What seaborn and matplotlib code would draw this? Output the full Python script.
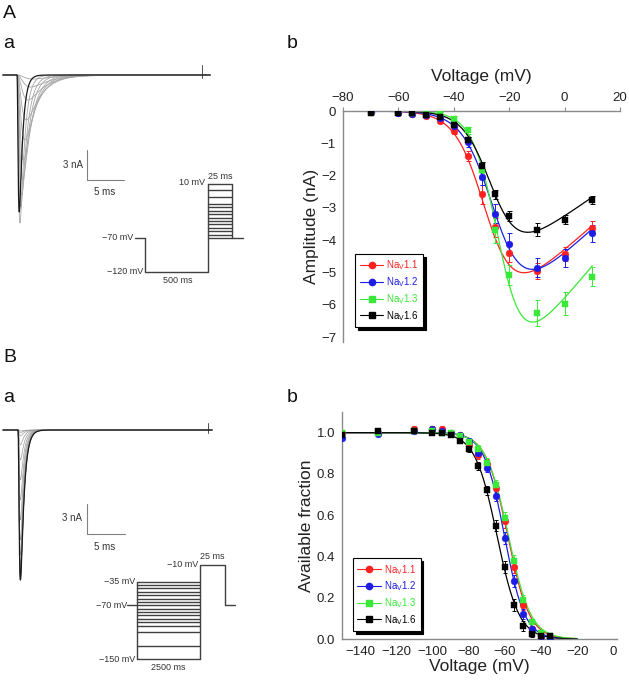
import numpy as np
import matplotlib
matplotlib.use('Agg')
import matplotlib.pyplot as plt
import seaborn as sns
from matplotlib.lines import Line2D

W, H = 629, 682

sns.set_theme(style='white')
plt.rcParams['font.family'] = ['Liberation Sans', 'DejaVu Sans']
plt.rcParams['axes.unicode_minus'] = True
spine_gray = '#8a8a8a'

# ---- panel A b : current-voltage data (mV, nA) ----
v_act = [-70, -60, -55, -50, -45, -40, -35, -30, -25, -20, -10, 0, 10]
amp_11 = [-0.03, -0.06, -0.10, -0.14, -0.32, -0.63, -1.40, -2.58, -3.60, -4.41, -4.95, -4.42, -3.62]
amp_12 = [-0.03, -0.05, -0.08, -0.12, -0.22, -0.45, -0.96, -2.04, -3.18, -4.12, -4.85, -4.54, -3.79]
amp_13 = [-0.02, -0.03, -0.06, -0.08, -0.09, -0.24, -0.60, -1.83, -3.69, -5.08, -6.25, -5.96, -5.13]
amp_16 = [-0.05, -0.05, -0.07, -0.11, -0.20, -0.42, -0.89, -1.69, -2.58, -3.24, -3.67, -3.36, -2.76]
err_11 = [0.02, 0.02, 0.03, 0.04, 0.05, 0.08, 0.15, 0.30, 0.30, 0.25, 0.25, 0.22, 0.20]
err_12 = [0.02, 0.02, 0.03, 0.04, 0.05, 0.08, 0.15, 0.25, 0.30, 0.35, 0.30, 0.28, 0.25]
err_13 = [0.02, 0.02, 0.03, 0.04, 0.05, 0.08, 0.12, 0.25, 0.40, 0.30, 0.40, 0.35, 0.30]
err_16 = [0.02, 0.02, 0.02, 0.03, 0.04, 0.06, 0.10, 0.12, 0.15, 0.15, 0.20, 0.15, 0.12]
# Boltzmann I-V fit parameters: Gmax, Vrev, V1/2, k
ivfit_11 = (0.0755, 57, -28.0, 5.3)
ivfit_12 = (0.0777, 57, -25.0, 5.5)
ivfit_13 = (0.102, 57, -23.5, 4.5)
ivfit_16 = (0.0593, 55, -26.0, 5.0)

# ---- panel B b : steady-state inactivation ----
v_inact = [-150, -130, -110, -100, -95, -90, -85, -80, -75, -70, -65, -60, -55, -50, -45, -40, -35]
frac_11 = [1.00, 1.00, 1.02, 1.02, 1.02, 1.00, 0.99, 0.94, 0.89, 0.85, 0.73, 0.57, 0.35, 0.165, 0.05, 0.016, 0.01]
frac_12 = [0.975, 0.995, 1.01, 1.02, 1.01, 1.00, 0.99, 0.96, 0.90, 0.83, 0.695, 0.49, 0.28, 0.12, 0.048, 0.016, 0.005]
frac_13 = [1.00, 1.00, 1.01, 1.01, 1.00, 1.00, 0.985, 0.957, 0.92, 0.855, 0.745, 0.585, 0.377, 0.19, 0.08, 0.03, 0.016]
frac_16 = [0.99, 1.01, 1.01, 1.00, 1.00, 0.99, 0.96, 0.92, 0.84, 0.72, 0.55, 0.35, 0.165, 0.064, 0.026, 0.016, 0.016]
ferr = [0.01, 0.01, 0.01, 0.01, 0.01, 0.01, 0.01, 0.015, 0.02, 0.02, 0.025, 0.03, 0.03, 0.025, 0.015, 0.01, 0.01]
# Boltzmann inactivation fits: V1/2, k
infit_11 = (-58.4, 6.0)
infit_12 = (-60.2, 5.6)
infit_13 = (-58.0, 6.2)
infit_16 = (-64.3, 6.1)

labels = [r'Na$_\mathregular{V}$1.1', r'Na$_\mathregular{V}$1.2',
          r'Na$_\mathregular{V}$1.3', r'Na$_\mathregular{V}$1.6']
colors = ['#ff2020', '#1c1ce6', '#3ae83a', '#000000']
markers = ['o', 'o', 's', 's']

# ---- panel a : example current traces (peak nA, tau_m ms, tau_h ms) ----
peaks_a = [0.4, 1.2, 2.5, 4.5, 6.5, 8.5, 10.5, 12.0, 13.2, 14.8, 13.7]
taum_a = [0.9, 0.75, 0.6, 0.5, 0.42, 0.35, 0.3, 0.25, 0.2, 0.16, 0.12]
tauh_a = [3.0, 2.6, 2.2, 1.9, 1.6, 1.35, 1.15, 0.95, 0.8, 0.6, 0.45]
peaks_b = [15.0, 15.0, 14.9, 14.8, 14.6, 14.2, 13.5, 12.5, 11.0, 9.0, 7.0, 5.0, 3.0, 1.5, 0.6, 0.25, 0.1]
taum_b, tauh_b = 0.13, 0.45

# protocols (mV)
test_a = [-70, -65, -60, -55, -50, -45, -40, -35, -30, -25, -20, -10, 0, 10]
prepulse_b = v_inact


def px_box(x0, y0, x1, y1):
    return [x0 / W, 1 - y1 / H, (x1 - x0) / W, (y1 - y0) / H]


def style_axes(ax):
    for s in ax.spines.values():
        s.set_color(spine_gray)
        s.set_linewidth(1.0)
    ax.tick_params(direction='out', length=3, width=0.8, color=spine_gray,
                   labelsize=9.5, labelcolor='#222222', pad=2)


def add_legend(ax, anchor):
    handles = [Line2D([], [], color=c, marker=m, lw=0.8, ms=4.5) for c, m in zip(colors, markers)]
    leg = ax.legend(handles, labels, loc='lower left', bbox_to_anchor=anchor, fontsize=7,
                    frameon=True, fancybox=False, edgecolor='black', framealpha=1,
                    shadow={'color': 'black', 'alpha': 1}, handlelength=2.4,
                    handletextpad=0.3, labelspacing=0.3, borderpad=0.45, borderaxespad=0)
    leg.get_frame().set_linewidth(0.8)
    for t, c in zip(leg.get_texts(), colors):
        t.set_color(c)


def path(ax, xs, ys, color='0.25', lw=1.0, **kw):
    # straight polyline drawn in given order, no aggregation
    sns.lineplot(x=xs, y=ys, color=color, lw=lw, sort=False, estimator=None,
                 errorbar=None, ax=ax, **kw)


def trace(t, onset, peak, tm, th):
    s = np.clip(t - onset, 0, None)
    shape = (1 - np.exp(-s / tm)) ** 3 * np.exp(-s / th)
    return -peak * shape / shape.max()


fig = plt.figure(figsize=(W / 100, H / 100), dpi=100)

# ================= A b =================
ax = fig.add_axes(px_box(343, 111, 620, 342))
vv = np.linspace(-70, 10, 300)
for y, e, p, c, m in zip([amp_11, amp_12, amp_13, amp_16], [err_11, err_12, err_13, err_16],
                         [ivfit_11, ivfit_12, ivfit_13, ivfit_16], colors, markers):
    g, vr, vh, k = p
    fit = g * (vv - vr) / (1 + np.exp((vh - vv) / k))
    sns.lineplot(x=vv, y=fit, color=c, lw=0.9, ax=ax)
    ax.errorbar(v_act, y, yerr=e, fmt='none', ecolor=c, elinewidth=0.7, capsize=1.8, capthick=0.7)
    sns.scatterplot(x=v_act, y=y, color=c, marker=m, s=24, edgecolor=c, linewidth=0.3, ax=ax, zorder=3)
ax.set_xlim(-80, 20)
ax.set_ylim(-7.15, 0)
ax.set_xticks(np.arange(-80, 21, 20))
ax.set_yticks(np.arange(-7, 1, 1))
ax.xaxis.tick_top()
ax.xaxis.set_label_position('top')
ax.spines['right'].set_visible(False)
ax.spines['bottom'].set_visible(False)
style_axes(ax)
ax.set_xlabel('Voltage (mV)', fontsize=12.5, color='#222222', labelpad=8)
ax.set_ylabel('Amplitude (nA)', fontsize=12.5, color='#222222', labelpad=1)
add_legend(ax, (0.045, 0.065))

# ================= B b =================
ax = fig.add_axes(px_box(342, 412, 617, 639))
vv = np.linspace(-150, -20, 300)
for y, p, c, m in zip([frac_11, frac_12, frac_13, frac_16],
                      [infit_11, infit_12, infit_13, infit_16], colors, markers):
    vh, k = p
    fit = 1 / (1 + np.exp((vv - vh) / k))
    sns.lineplot(x=vv, y=fit, color=c, lw=0.9, ax=ax)
    ax.errorbar(v_inact, y, yerr=ferr, fmt='none', ecolor=c, elinewidth=0.7, capsize=1.5, capthick=0.7)
    sns.scatterplot(x=v_inact, y=y, color=c, marker=m, s=24, edgecolor=c, linewidth=0.3, ax=ax, zorder=3)
ax.set_xlim(-150, 2)
ax.set_ylim(0, 1.1)
ax.set_xticks(np.arange(-140, 1, 20))
ax.set_yticks(np.arange(0, 1.01, 0.2))
ax.yaxis.set_major_formatter(matplotlib.ticker.FormatStrFormatter('%.1f'))
ax.spines['right'].set_visible(False)
ax.spines['top'].set_visible(False)
style_axes(ax)
ax.set_xlabel('Voltage (mV)', fontsize=12.5, color='#222222', labelpad=1)
ax.set_ylabel('Available fraction', fontsize=12.5, color='#222222', labelpad=2)
add_legend(ax, (0.04, 0.035))

# ================= A a traces =================
ax = fig.add_axes(px_box(0, 60, 300, 360))
ax.set_axis_off()
ax.set_xlim(0, 300 / 7.4)
ax.set_ylim(-28.5, 1.5)
onset = 2.3
t = np.linspace(0.4, 28.4, 4000)
n = len(peaks_a)
for i, (pk, tm, th) in enumerate(zip(peaks_a, taum_a, tauh_a)):
    col = '0.1' if i == n - 1 else '0.65'
    lw = 0.9 if i == n - 1 else 0.6
    path(ax, t, trace(t, onset, pk, tm, th), color=col, lw=lw, zorder=2 + (i == n - 1))
path(ax, [onset + 25] * 2, [-0.3, 1.0], color='0.3', lw=0.7)
path(ax, [11.76, 11.76, 16.76], [-7.5, -10.5, -10.5], color='0.5', lw=0.8)
ax.text(11.2, -9.0, '3 nA', ha='right', va='center', fontsize=7, color='#333333')
ax.text(14.2, -11.7, '5 ms', ha='center', va='center', fontsize=7, color='#333333')

# A a protocol
ax = fig.add_axes(px_box(100, 170, 250, 290))
ax.set_axis_off()
ax.set_xlim(0, 150)
ax.set_ylim(-146.5, 30)
path(ax, [35, 45, 45, 108, 108], [-70, -70, -120, -120, max(test_a)])
path(ax, [132, 132, 143], [max(test_a), -70, -70])
for lv in test_a:
    path(ax, [108, 132], [lv, lv])
ax.text(33, -70, '\u221270 mV', ha='right', va='center', fontsize=6.5, color='#333333')
ax.text(43, -120, '\u2212120 mV', ha='right', va='center', fontsize=6.5, color='#333333')
ax.text(78, -133, '500 ms', ha='center', va='center', fontsize=6.5, color='#333333')
ax.text(105, 12, '10 mV', ha='right', va='center', fontsize=6.5, color='#333333')
ax.text(120, 21, '25 ms', ha='center', va='center', fontsize=6.5, color='#333333')

# ================= B a traces =================
ax = fig.add_axes(px_box(0, 400, 300, 682))
ax.set_axis_off()
ax.set_xlim(0, 300 / 7.6)
ax.set_ylim(-25.2, 3.0)
onset = 2.37
t = np.linspace(0.4, 27.9, 4000)
for i, p in enumerate(peaks_b):
    col = '0.1' if i == 0 else '0.6'
    lw = 0.9 if i == 0 else 0.5
    path(ax, t, trace(t, onset, p, taum_b, tauh_b), color=col, lw=lw, zorder=3 - (i > 0))
path(ax, [onset + 25] * 2, [-0.3, 0.7], color='0.3', lw=0.7)
path(ax, [11.45, 11.45, 16.45], [-7.4, -10.4, -10.4], color='0.5', lw=0.8)
ax.text(10.8, -8.8, '3 nA', ha='right', va='center', fontsize=7, color='#333333')
ax.text(13.8, -11.7, '5 ms', ha='center', va='center', fontsize=7, color='#333333')

# B a protocol
ax = fig.add_axes(px_box(100, 540, 250, 680))
ax.set_axis_off()
ax.set_xlim(0, 150)
ax.set_ylim(-180.7, 26.7)
path(ax, [27, 37], [-70, -70])
path(ax, [37, 37], [min(prepulse_b), max(prepulse_b)])
path(ax, [100, 100, 125, 125, 135], [min(prepulse_b), -10, -10, -70, -70])
for lv in prepulse_b:
    path(ax, [37, 100], [lv, lv])
ax.text(35, -35, '\u221235 mV', ha='right', va='center', fontsize=6.5, color='#333333')
ax.text(27, -70, '\u221270 mV', ha='right', va='center', fontsize=6.5, color='#333333')
ax.text(35, -150, '\u2212150 mV', ha='right', va='center', fontsize=6.5, color='#333333')
ax.text(68, -162, '2500 ms', ha='center', va='center', fontsize=6.5, color='#333333')
ax.text(98, -10, '\u221210 mV', ha='right', va='center', fontsize=6.5, color='#333333')
ax.text(112.5, 2, '25 ms', ha='center', va='center', fontsize=6.5, color='#333333')

# panel letters
for s, x, y in [('A', 3, 14), ('a', 3, 44), ('b', 287, 44),
                ('B', 3, 358), ('a', 3, 398), ('b', 287, 398)]:
    fig.text(x / W, 1 - y / H, s, fontsize=14, ha='left', va='center', color='#111111')

fig.savefig('out.png', dpi=100)
